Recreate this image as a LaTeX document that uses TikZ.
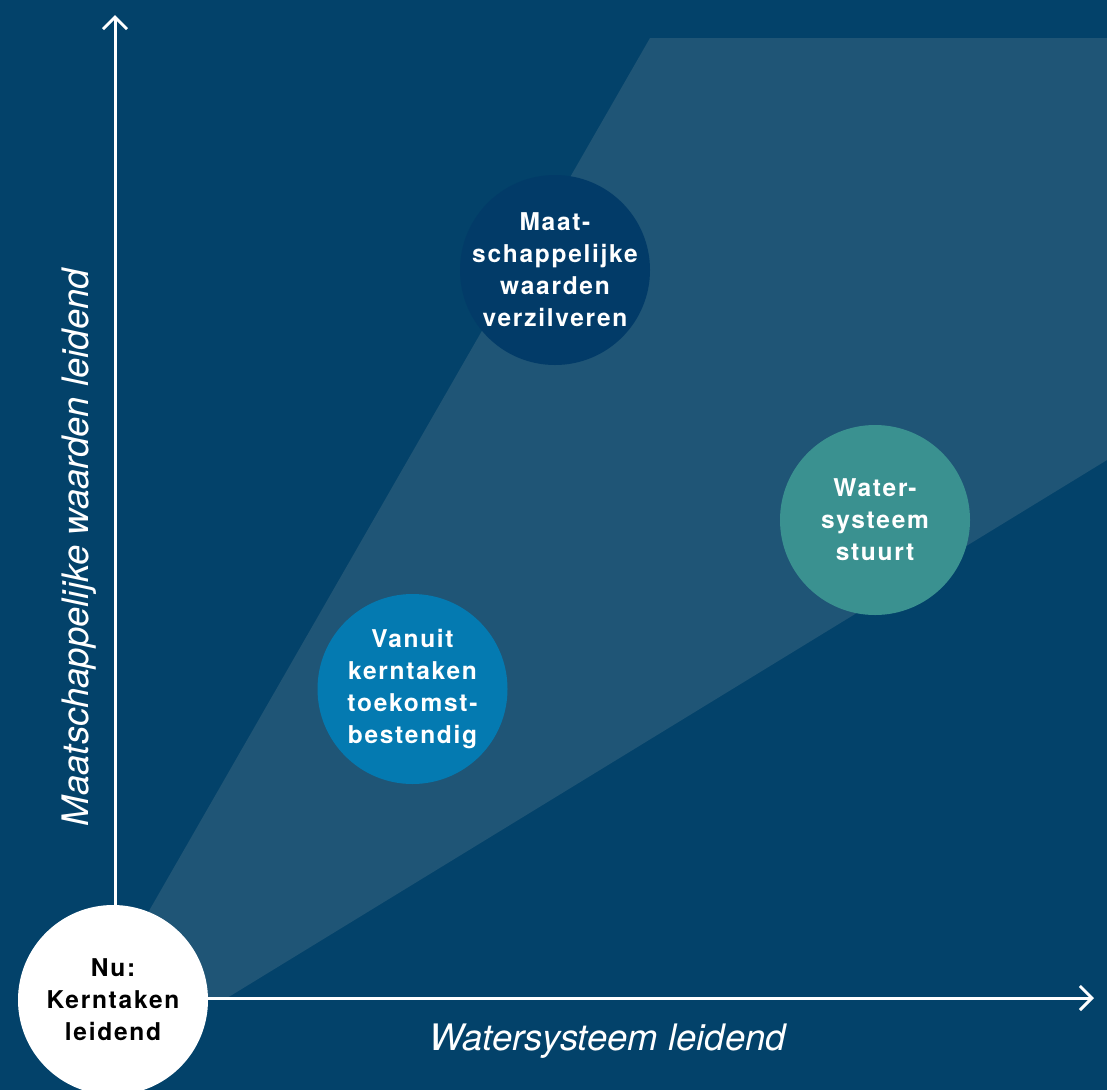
\documentclass[tikz,border=0pt]{standalone}
\usepackage{fontspec}
\setmainfont{TeX Gyre Heros}
\newfontfamily\circfont{TeX Gyre Heros}[LetterSpace=7]
\usetikzlibrary{arrows.meta}
\definecolor{bgblue}{HTML}{03426A}
\definecolor{wedgeblue}{HTML}{1F5576}
\definecolor{navycirc}{HTML}{023B68}
\definecolor{tealcirc}{HTML}{3A9190}
\definecolor{bluecirc}{HTML}{047AB1}
\tikzset{
  axisline/.style={white, line width=3pt, -{Straight Barb[length=12pt,width=24pt,line width=3pt]}},
  circ/.style={circle, minimum size=190pt, inner sep=0pt},
  circtext/.style={inner sep=0pt, align=center,
    font=\circfont\bfseries\fontsize{24.5}{32}\selectfont, text=white},
  axislabel/.style={text=white, font=\fontsize{36.5}{40}\selectfont\itshape, anchor=base, inner sep=0pt}
}
\begin{document}
\begin{tikzpicture}[x=1pt,y=-1pt]
\useasboundingbox (0,0) rectangle (1107,1090);
\clip (0,0) rectangle (1107,1090);
\fill[bgblue] (0,0) rectangle (1107,1090);
% wedge
\fill[wedgeblue] (99,998) -- (650,38) -- (1107,38) -- (1107,460) -- (227,998) -- cycle;
% axes
\coordinate (o) at (115,998);
\coordinate (ytip) at (115,15);
\coordinate (xtip) at (1094,998);
\draw[axisline] (o) -- (ytip);
\draw[axisline] (o) -- (xtip);
% circles
\node[circ, fill=navycirc] (maat) at (555,270) {};
\node[circtext] (maattext) at (maat.center) {Maat-\\schappelijke\\waarden\\verzilveren};
\node[circ, fill=tealcirc] (water) at (875,520) {};
\node[circtext] (watertext) at (water.center) {Water-\\systeem\\stuurt};
\node[circ, fill=bluecirc] (vanuit) at (412.5,689) {};
\node[circtext] (vanuittext) at (vanuit.center) {Vanuit\\kerntaken\\toekomst-\\bestendig};
\node[circ, fill=white] (nu) at (113,1000) {};
\node[circtext, text=black] (nutext) at (nu.center) {Nu:\\Kerntaken\\leidend};
% axis labels
\node[axislabel] (xlabel) at (608,1050) {Watersysteem leidend};
\node[axislabel, rotate=90] (ylabel) at (88,547.5) {Maatschappelijke waarden leidend};
\end{tikzpicture}
\end{document}
